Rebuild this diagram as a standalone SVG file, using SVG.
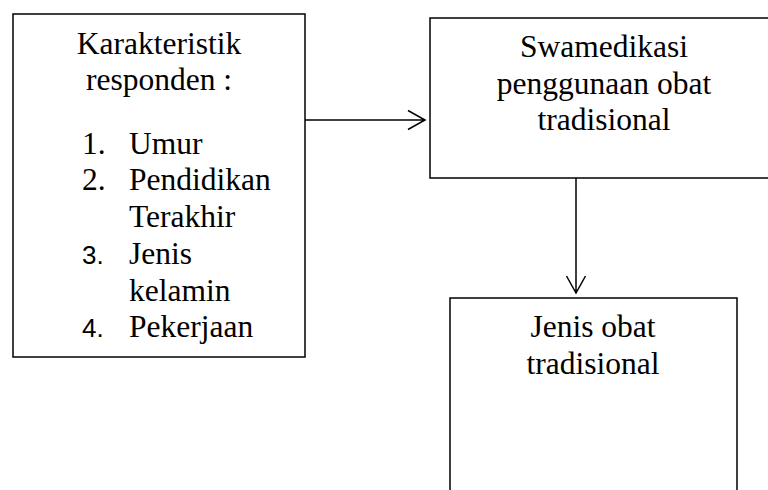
<svg xmlns="http://www.w3.org/2000/svg" width="768" height="490" viewBox="0 0 768 490">
<style>
.box{fill:#fff;stroke:#000;stroke-width:1.5}
.t{font-family:"Liberation Serif","Times New Roman",serif;font-size:31.5px;fill:#000}
.c{text-anchor:middle}
.n{font-family:"Liberation Sans",Arial,sans-serif;font-size:26px;fill:#000}
.edge{fill:none;stroke:#000;stroke-width:1.5}
</style>
<rect width="768" height="490" fill="#fff"/>
<g id="node-karakteristik">
<rect class="box" x="13" y="14" width="292" height="343"/>
<text class="t c" x="159" y="54">Karakteristik</text>
<text class="t c" x="159" y="90">responden :</text>
<text class="t" x="82" y="154">1.</text>
<text class="t" x="129" y="154">Umur</text>
<text class="t" x="82" y="190">2.</text>
<text class="t" x="129" y="190">Pendidikan</text>
<text class="t" x="129" y="227">Terakhir</text>
<text class="n" x="82" y="264">3.</text>
<text class="t" x="129" y="264">Jenis</text>
<text class="t" x="129" y="301">kelamin</text>
<text class="n" x="82" y="337">4.</text>
<text class="t" x="129" y="337">Pekerjaan</text>
</g>
<g id="node-swamedikasi">
<rect class="box" x="430" y="18" width="350" height="160"/>
<text class="t c" x="604" y="57">Swamedikasi</text>
<text class="t c" x="604" y="94">penggunaan obat</text>
<text class="t c" x="604" y="130">tradisional</text>
</g>
<g id="node-jenis">
<rect class="box" x="450" y="298" width="287" height="220"/>
<text class="t c" x="593" y="337">Jenis obat</text>
<text class="t c" x="593" y="374">tradisional</text>
</g>
<g id="connectors">
<path class="edge" d="M305 120H425M408 110.5L425 120L408 129.5"/>
<path class="edge" d="M576 178V293M566.5 276L576 293L585.5 276"/>
</g>
</svg>
